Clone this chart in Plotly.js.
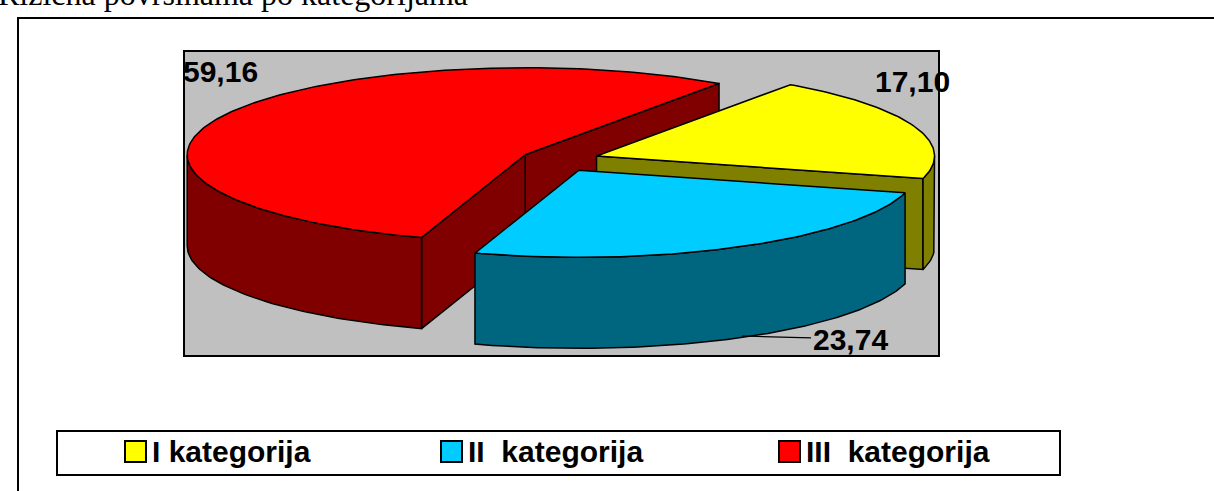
<!DOCTYPE html>
<html>
<head>
<meta charset="utf-8">
<script src="https://cdn.plot.ly/plotly-3.0.1.min.js"></script>
<style>html,body{margin:0;padding:0;background:#fff;}#plot{width:1214px;height:491px;}</style>
</head>
<body>
<div id="plot"></div>
<script>
// ---- data ----
const titleText = 'Rizična površinama po kategorijama';
const categories = ['I kategorija', 'II\u00A0 kategorija', 'III\u00A0 kategorija'];
const values = [17.10, 23.74, 59.16];
const colors = ['#FFFF00', '#00CCFF', '#FF0000'];
const sideColors = ['#808000', '#006680', '#800000'];

// ---- layout / view constants (pixels, degrees) ----
const W = 1214, H = 491;
const G = {cx: 560, cy: 160, a: 338, b: 87, depth: 91, exX: 0.115, exY: 0.135};
const VIEW = {rotation: 48, warpCos: 0.65, warpSin: 8.84}; // 3-D view perspective distortion of angles
const labelPos = [[912, 81], [850, 339], [220, 71.5]];
const leaderFrom = [null, [742, 336], null];
const legendSquareX = [125, 441, 779];
const legendY = [441, 462];

const fmt = v => v.toFixed(2).replace('.', ',');
const rad = d => d * Math.PI / 180;
const warp = p => p + VIEW.warpCos * Math.cos(rad(p)) + VIEW.warpSin * Math.sin(rad(p));

const total = values.reduce((s, v) => s + v, 0);
let cum = 0;
const slices = values.map((v, i) => {
  const hiTrue = VIEW.rotation - cum / total * 360;
  cum += v;
  const loTrue = VIEW.rotation - cum / total * 360;
  const lo = warp(loTrue), hi = warp(hiTrue);
  const mid = (lo + hi) / 2;
  const ox = G.cx + G.exX * G.a * Math.cos(rad(mid));
  const oy = G.cy - G.exY * G.b * Math.sin(rad(mid));
  return {i, lo, hi, mid, ox, oy};
});

function rim(s, deg, dz) {
  return [s.ox + G.a * Math.cos(rad(deg)), s.oy - G.b * Math.sin(rad(deg)) + (dz || 0)];
}
function arc(s, t1, t2, dz) {
  const pts = [];
  const n = Math.max(2, Math.ceil(Math.abs(t2 - t1)));
  for (let k = 0; k <= n; k++) pts.push(rim(s, t1 + (t2 - t1) * k / n, dz));
  return pts;
}
function poly(pts, fill, name) {
  return {
    type: 'scatter', mode: 'lines',
    x: pts.map(p => p[0]).concat([pts[0][0]]),
    y: pts.map(p => p[1]).concat([pts[0][1]]),
    fill: 'toself', fillcolor: fill,
    line: {color: '#000', width: 1.5},
    hoverinfo: 'text', text: name, showlegend: false
  };
}

const D = G.depth;
const traces = [];
const order = slices.slice().sort((p, q) => Math.sin(rad(q.mid)) - Math.sin(rad(p.mid)));
order.forEach(s => {
  const name = categories[s.i] + ': ' + fmt(values[s.i]);
  const side = sideColors[s.i];
  const c = [s.ox, s.oy];
  if (Math.cos(rad(s.lo)) > 0) traces.push(poly([c, rim(s, s.lo), rim(s, s.lo, D), [s.ox, s.oy + D]], side, name));
  if (Math.cos(rad(s.hi)) < 0) traces.push(poly([c, rim(s, s.hi), rim(s, s.hi, D), [s.ox, s.oy + D]], side, name));
  for (let k = -2; k <= 2; k++) {
    const t1 = Math.max(s.lo, -180 + 360 * k), t2 = Math.min(s.hi, 360 * k);
    if (t2 > t1) traces.push(poly(arc(s, t1, t2, 0).concat(arc(s, t2, t1, D)), side, name));
  }
  traces.push(poly([c].concat(arc(s, s.lo, s.hi, 0)), colors[s.i], name));
});

const boldFont = {family: 'Liberation Sans, Arial, sans-serif', size: 30, color: '#000', weight: 'bold'};
const annotations = [];
annotations.push({
  xref: 'paper', yref: 'paper', x: 0, y: 1 + 6 / H, xanchor: 'left', yanchor: 'middle', xshift: -4,
  text: titleText, showarrow: false,
  font: {family: 'Liberation Serif, Times New Roman, serif', size: 32, color: '#000'}
});
values.forEach((v, i) => {
  if (leaderFrom[i]) {
    annotations.push({
      xref: 'x', yref: 'y', x: leaderFrom[i][0], y: leaderFrom[i][1],
      axref: 'x', ayref: 'y', ax: labelPos[i][0], ay: labelPos[i][1],
      text: fmt(v), showarrow: true, arrowhead: 0, arrowwidth: 1.2, arrowcolor: '#000',
      standoff: 0, startstandoff: 0, font: boldFont
    });
  } else {
    annotations.push({
      xref: 'x', yref: 'y', x: labelPos[i][0], y: labelPos[i][1],
      xanchor: 'center', yanchor: 'middle', text: fmt(v), showarrow: false, font: boldFont
    });
  }
});

const shapes = [
  {type: 'rect', xref: 'paper', yref: 'paper', x0: 18 / W, x1: 1.05, y0: -0.05, y1: 1 - 18 / H,
   line: {color: '#000', width: 2}, fillcolor: 'rgba(0,0,0,0)', layer: 'below'},
  {type: 'rect', xref: 'paper', yref: 'paper', x0: 57 / W, x1: 1060 / W, y0: 1 - 475 / H, y1: 1 - 431 / H,
   line: {color: '#000', width: 2}, fillcolor: '#FFFFFF', layer: 'above'}
];
categories.forEach((cat, i) => {
  const x0 = legendSquareX[i], x1 = x0 + 21;
  shapes.push({type: 'rect', xref: 'paper', yref: 'paper', x0: x0 / W, x1: x1 / W,
    y0: 1 - legendY[1] / H, y1: 1 - legendY[0] / H,
    line: {color: '#000', width: 2}, fillcolor: colors[i], layer: 'above'});
  annotations.push({xref: 'paper', yref: 'paper', x: (x1 + 4) / W, y: 1 - 451 / H,
    xanchor: 'left', yanchor: 'middle', text: cat, showarrow: false, font: boldFont});
});

const axisBase = {showgrid: false, zeroline: false, showticklabels: false, ticks: '',
  showline: true, mirror: true, linecolor: '#000', linewidth: 2, fixedrange: true};
const layout = {
  width: W, height: H,
  margin: {l: 0, r: 0, t: 0, b: 0, pad: 0},
  paper_bgcolor: '#FFFFFF', plot_bgcolor: '#C0C0C0',
  xaxis: Object.assign({domain: [185 / W, 938 / W], range: [185, 938]}, axisBase),
  yaxis: Object.assign({domain: [1 - 355 / H, 1 - 52 / H], range: [355, 52]}, axisBase),
  showlegend: false,
  shapes: shapes,
  annotations: annotations
};
Plotly.newPlot('plot', traces, layout, {displayModeBar: false});
</script>
</body>
</html>
